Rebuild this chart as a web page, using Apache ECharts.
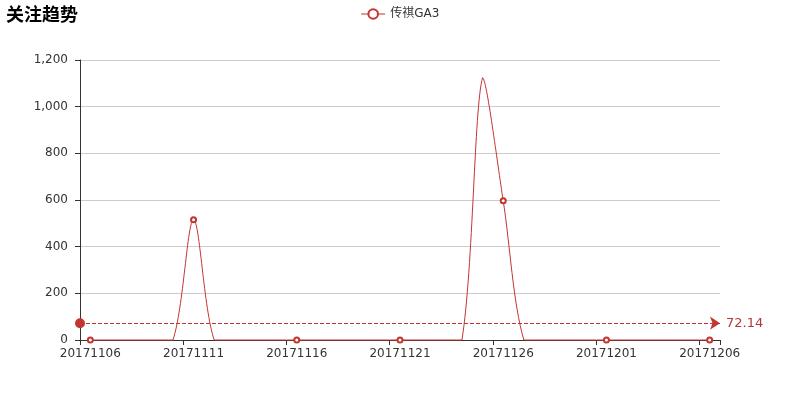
<!DOCTYPE html>
<html>
<head>
<meta charset="utf-8">
<script src="https://cdn.jsdelivr.net/npm/echarts@6/dist/echarts.min.js"></script>
<style>
html,body{margin:0;padding:0;background:#fff;}
#main{width:800px;height:400px;}
</style>
</head>
<body>
<div id="main"></div>
<script>
const titleText = '关注趋势';
const seriesName = '传祺GA3';
const categories = [
  '20171106','20171107','20171108','20171109','20171110','20171111','20171112','20171113',
  '20171114','20171115','20171116','20171117','20171118','20171119','20171120','20171121',
  '20171122','20171123','20171124','20171125','20171126','20171127','20171128','20171129',
  '20171130','20171201','20171202','20171203','20171204','20171205','20171206'
];
const values = [
  0, 0, 0, 0, 0, 515.6, 0, 0,
  0, 0, 0, 0, 0, 0, 0, 0,
  0, 0, 0, 1124.2, 596.5, 0, 0, 0,
  0, 0, 0, 0, 0, 0, 0
];
const yTicks = [0, 200, 400, 600, 800, 1000, 1200];

const FONT = 'DejaVu Sans, "Noto Sans CJK SC", sans-serif';
const RED = '#c23531';
const SMOOTH = 0.3;

// Bezier smoothing with bounding-box constraint (classic zrender style),
// computed from the points the library's own axes give for the data.
function controlPoints(pts) {
  let minX = Infinity, minY = Infinity, maxX = -Infinity, maxY = -Infinity;
  pts.forEach(p => {
    minX = Math.min(minX, p[0]); maxX = Math.max(maxX, p[0]);
    minY = Math.min(minY, p[1]); maxY = Math.max(maxY, p[1]);
  });
  const clamp = (c) => [Math.min(Math.max(c[0], minX), maxX), Math.min(Math.max(c[1], minY), maxY)];
  const cps = [];
  for (let i = 0; i < pts.length; i++) {
    const p = pts[i];
    if (i === 0 || i === pts.length - 1) { cps.push([p[0], p[1]], [p[0], p[1]]); continue; }
    const prev = pts[i - 1], next = pts[i + 1];
    const vx = (next[0] - prev[0]) * SMOOTH, vy = (next[1] - prev[1]) * SMOOTH;
    let d0 = Math.hypot(p[0] - prev[0], p[1] - prev[1]);
    let d1 = Math.hypot(p[0] - next[0], p[1] - next[1]);
    const s = d0 + d1;
    if (s !== 0) { d0 /= s; d1 /= s; }
    cps.push(clamp([p[0] - vx * d0, p[1] - vy * d0]), clamp([p[0] + vx * d1, p[1] + vy * d1]));
  }
  return cps;
}

const chart = echarts.init(document.getElementById('main'), null, {renderer: 'canvas'});
chart.setOption({
  animation: false,
  textStyle: {fontFamily: FONT},
  title: {
    text: titleText,
    left: 1, top: 2,
    textStyle: {fontSize: 18, fontWeight: 'bold', color: '#000', fontFamily: FONT}
  },
  legend: {
    data: [seriesName],
    top: 3,
    left: 'center',
    itemWidth: 24,
    itemHeight: 12,
    itemStyle: {borderWidth: 1},
    lineStyle: {width: 1, opacity: 1, color: RED},
    textStyle: {fontSize: 12, color: '#333', fontFamily: FONT}
  },
  grid: {left: 80, right: 80, top: 60, bottom: 60},
  xAxis: {
    type: 'category',
    data: categories,
    boundaryGap: true,
    axisLine: {lineStyle: {color: '#333', width: 1}},
    axisTick: {show: true, interval: 4, length: 5, lineStyle: {color: '#333'}},
    axisLabel: {interval: 4, color: '#333', fontSize: 12, fontFamily: FONT, margin: 8},
    splitLine: {show: false}
  },
  yAxis: {
    type: 'value',
    min: yTicks[0],
    max: yTicks[yTicks.length - 1],
    interval: yTicks[1] - yTicks[0],
    axisLine: {show: true, lineStyle: {color: '#333', width: 1}},
    axisTick: {show: true, length: 5, lineStyle: {color: '#333'}},
    axisLabel: {
      color: '#333', fontSize: 12, fontFamily: FONT, margin: 12,
      formatter: v => v.toLocaleString('en-US')
    },
    splitLine: {show: true, lineStyle: {color: '#ccc', width: 1}}
  },
  series: [{
    name: seriesName,
    type: 'line',
    data: values,
    smooth: false,
    symbol: 'emptyCircle',
    symbolSize: 5,
    showSymbol: true,
    showAllSymbol: false,
    z: 3,
    itemStyle: {color: RED, borderWidth: 1},
    lineStyle: {color: RED, width: 0},
    markLine: {
      silent: true,
      symbol: ['circle', 'arrow'],
      symbolSize: [10, 10],
      precision: 2,
      data: [{type: 'average', name: '平均值'}],
      lineStyle: {color: RED, type: 'dashed', width: 1, opacity: 1},
      itemStyle: {color: RED},
      label: {position: 'end', color: '#b03a3a', fontSize: 13, fontFamily: FONT, distance: 6}
    }
  }, {
    name: seriesName + '-curve',
    type: 'custom',
    data: values,
    z: 2,
    silent: true,
    renderItem: function (params, api) {
      const i = params.dataIndex;
      if (i >= values.length - 1) return null;
      const pts = values.map((v, k) => api.coord([k, v]));
      const cps = controlPoints(pts);
      const a = pts[i], b = pts[i + 1];
      const c1 = cps[2 * i + 1], c2 = cps[2 * (i + 1)];
      return {
        type: 'bezierCurve',
        shape: {x1: a[0], y1: a[1], x2: b[0], y2: b[1], cpx1: c1[0], cpy1: c1[1], cpx2: c2[0], cpy2: c2[1]},
        style: {stroke: RED, lineWidth: 1, fill: null}
      };
    }
  }]
});
</script>
</body>
</html>
